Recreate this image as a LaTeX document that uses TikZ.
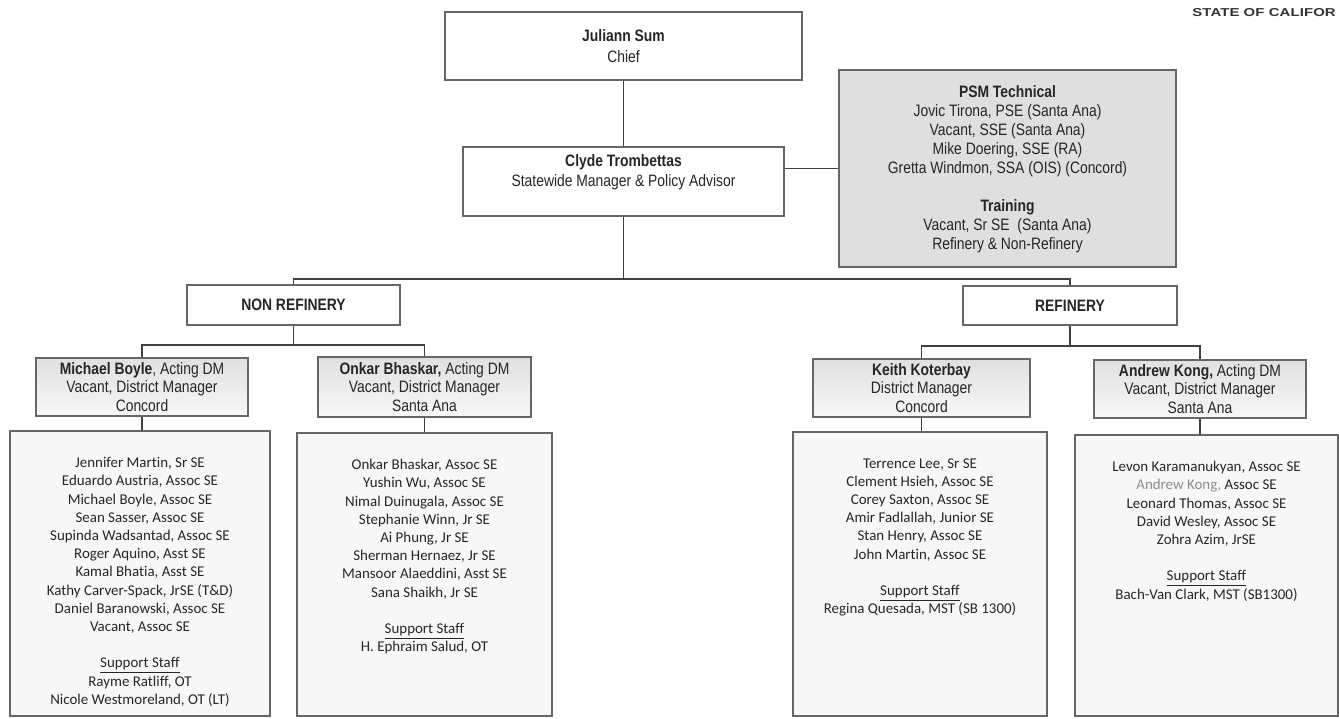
\documentclass[tikz,border=0pt]{standalone}
\usepackage{fontspec}
\setmainfont{Liberation Sans}
\newfontfamily\hdfont[FakeStretch=0.84]{Liberation Sans}
\newfontfamily\listfont[Ligatures=CommonOff]{Carlito}
\newfontfamily\statefont[FakeStretch=1.3,LetterSpace=1]{Liberation Sans}
\usetikzlibrary{positioning}

\begin{document}
\begin{tikzpicture}[x=0.75pt,y=-0.75pt,
    box/.style={draw=black!60,line width=0.8pt,fill=white,align=center,text=black!85,inner ysep=1pt,
        font=\hdfont\fontsize{12.4}{15}\selectfont},
    dmbox/.style={box,top color=gray!24,bottom color=gray!6,minimum height=43.5pt,
        font=\hdfont\fontsize{12.4}{13.8}\selectfont},
    staffbox/.style={box,fill=gray!6},
    hdtext/.style={inner sep=0pt,align=center,text=black!85,font=\hdfont\fontsize{12.4}{15}\selectfont},
    listtext/.style={inner sep=0pt,align=center,text=black!85,font=\listfont\fontsize{11.2}{13.65}\selectfont},
    link/.style={draw=black!75,line width=0.9pt}]
    \fill[white] (0,0) rectangle (1339,718);
    \useasboundingbox (0,0) rectangle (1339,718);

    \node[anchor=base east,inner sep=0pt,text=black!80,font=\statefont\bfseries\fontsize{8.6}{10}\selectfont] (state) at (1336,16) {STATE OF CALIFOR};

    \node[box,minimum width=267.75pt,minimum height=51pt,font=\hdfont\fontsize{12.4}{15.75}\selectfont] (chief) at (623.5,46) {\textbf{Juliann Sum}\\Chief};
    \node[box,minimum width=240.75pt,minimum height=51.75pt] (clyde) at (623.5,181.5) {};
    \node[hdtext,below=6pt of clyde.north] (clydeTxt) {\textbf{Clyde Trombettas}\\Statewide Manager \& Policy Advisor};
    \node[box,fill=gray!25,minimum width=252.75pt,minimum height=147.75pt] (psm) at (1007.5,168.5) {};
    \node[hdtext,font=\hdfont\fontsize{12.4}{14.25}\selectfont,below=12pt of psm.north] (psmTxt) {\textbf{PSM Technical}\\Jovic Tirona, PSE (Santa Ana)\\Vacant, SSE (Santa Ana)\\Mike Doering, SSE (RA)\\Gretta Windmon, SSA (OIS) (Concord)\\[14pt]\textbf{Training}\\Vacant, Sr SE~ (Santa Ana)\\Refinery \& Non-Refinery};

    \node[box,minimum width=159.75pt,minimum height=30pt,font=\hdfont\bfseries\fontsize{12.4}{15}\selectfont] (nonref) at (293.5,305) {NON REFINERY};
    \node[box,minimum width=160.5pt,minimum height=29.25pt,font=\hdfont\bfseries\fontsize{12.4}{15}\selectfont] (ref) at (1070,305.5) {REFINERY};

    \node[dmbox,minimum width=159pt] (dmA) at (142,387) {\textbf{Michael Boyle}, Acting DM\\Vacant, District Manager\\Concord};
    \node[dmbox,minimum width=159.75pt,minimum height=45pt] (dmB) at (424.5,387) {\textbf{Onkar Bhaskar,} Acting DM\\Vacant, District Manager\\Santa Ana};
    \node[dmbox,minimum width=162.75pt] (dmC) at (921.5,388) {\textbf{Keith Koterbay}\\District Manager\\Concord};
    \node[dmbox,minimum width=159pt] (dmD) at (1200,389) {\textbf{Andrew Kong,} Acting DM\\Vacant, District Manager\\Santa Ana};

    \node[staffbox,minimum width=195pt,minimum height=213.75pt] (staffA) at (140,573.5) {};
    \node[staffbox,minimum width=191.25pt,minimum height=212.25pt] (staffB) at (424.5,574.5) {};
    \node[staffbox,minimum width=190.5pt,minimum height=213pt] (staffC) at (920,574) {};
    \node[staffbox,minimum width=197.25pt,minimum height=210.75pt] (staffD) at (1206.5,575.5) {};

    \node[listtext,below=20pt of staffA.north] (listA) {Jennifer Martin, Sr SE\\Eduardo Austria, Assoc SE\\Michael Boyle, Assoc SE\\Sean Sasser, Assoc SE\\Supinda Wadsantad, Assoc SE\\Roger Aquino, Asst SE\\Kamal Bhatia, Asst SE\\Kathy Carver-Spack, JrSE (T\&D)\\Daniel Baranowski, Assoc SE\\Vacant, Assoc SE\\[13.65pt]\underline{Support Staff}\\Rayme Ratliff, OT\\Nicole Westmoreland, OT (LT)};
    \node[listtext,below=20pt of staffB.north] (listB) {Onkar Bhaskar, Assoc SE\\Yushin Wu, Assoc SE\\Nimal Duinugala, Assoc SE\\Stephanie Winn, Jr SE\\Ai Phung, Jr SE\\Sherman Hernaez, Jr SE\\Mansoor Alaeddini, Asst SE\\Sana Shaikh, Jr SE\\[13.65pt]\underline{Support Staff}\\H. Ephraim Salud, OT};
    \node[listtext,below=20pt of staffC.north] (listC) {Terrence Lee, Sr SE\\Clement Hsieh, Assoc SE\\Corey Saxton, Assoc SE\\Amir Fadlallah, Junior SE\\Stan Henry, Assoc SE\\John Martin, Assoc SE\\[13.65pt]\underline{Support Staff}\\Regina Quesada, MST (SB 1300)};
    \node[listtext,below=20pt of staffD.north] (listD) {Levon Karamanukyan, Assoc SE\\{\color{black!45}Andrew Kong,} Assoc SE\\Leonard Thomas, Assoc SE\\David Wesley, Assoc SE\\Zohra Azim, JrSE\\[13.65pt]\underline{Support Staff}\\Bach-Van Clark, MST (SB1300)};

    \coordinate (bus) at (623.5,279);
    \coordinate (splitL) at (293.5,345);
    \coordinate (splitR) at (1070,346);
    \draw[link] (chief.south) -- (clyde.north);
    \draw[link] (psm.west) -- (psm.west -| clyde.east);
    \draw[link] (clyde.south) -- (bus);
    \draw[link] (nonref.north) -- (nonref.north |- bus) -- (ref.north |- bus) -- (ref.north);
    \draw[link] (nonref.south) -- (splitL);
    \draw[link] (dmA.north) -- (dmA.north |- splitL) -- (dmB.north |- splitL) -- (dmB.north);
    \draw[link] (ref.south) -- (splitR);
    \draw[link] (dmC.north) -- (dmC.north |- splitR) -- (dmD.north |- splitR) -- (dmD.north);
    \foreach \d/\s in {dmA/staffA,dmB/staffB,dmC/staffC,dmD/staffD}
        \draw[link] (\d.south) -- (\d.south |- \s.north);
\end{tikzpicture}
\end{document}
